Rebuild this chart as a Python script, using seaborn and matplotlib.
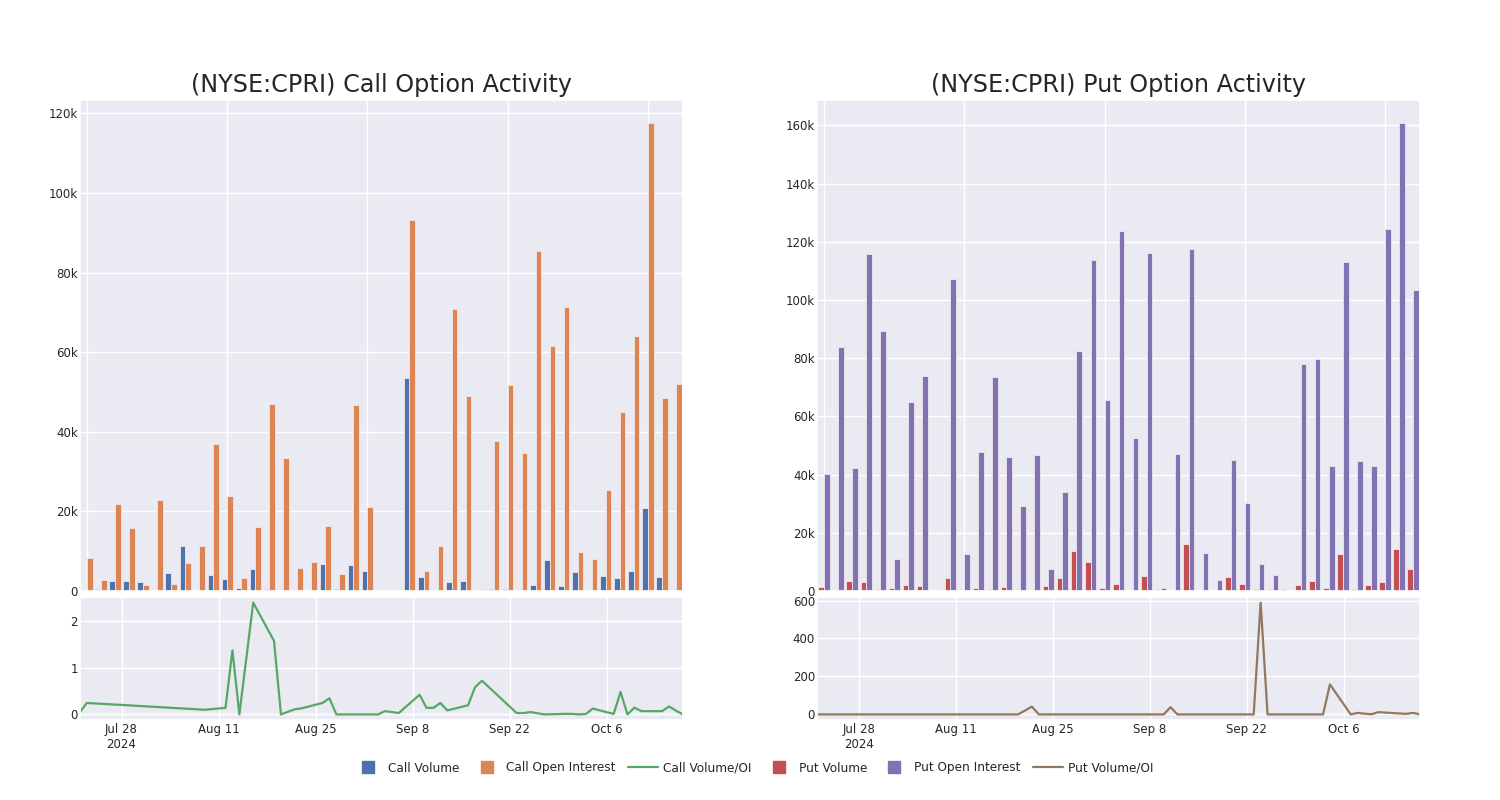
import pandas as pd
import numpy as np
import matplotlib
matplotlib.use('Agg')
import matplotlib.pyplot as plt
import seaborn as sns
from matplotlib.lines import Line2D
from matplotlib.ticker import FuncFormatter

# trading days shown in the chart
dates = ['2024-07-22', '2024-07-23', '2024-08-09', '2024-08-12', '2024-08-13',
         '2024-08-14', '2024-08-16', '2024-08-19', '2024-08-20', '2024-08-22',
         '2024-08-23', '2024-08-26', '2024-08-27', '2024-08-28', '2024-09-03',
         '2024-09-04', '2024-09-06', '2024-09-09', '2024-09-10', '2024-09-11',
         '2024-09-12', '2024-09-13', '2024-09-16', '2024-09-17', '2024-09-18',
         '2024-09-23', '2024-09-24', '2024-09-25', '2024-09-27', '2024-09-30',
         '2024-10-01', '2024-10-02', '2024-10-03', '2024-10-04', '2024-10-07',
         '2024-10-08', '2024-10-09', '2024-10-10', '2024-10-11', '2024-10-14',
         '2024-10-15', '2024-10-16', '2024-10-17']

call_volume = [300, 550, 2400, 2400, 2300, 100, 4600, 11200, 100, 3900,
               3000, 700, 5500, 400, 0, 300, 100, 6700, 500, 6600,
               5000, 25, 60, 53400, 3600, 300, 2300, 2500, 0, 500,
               600, 0, 1400, 7800, 1300, 4800, 0, 3750, 3200, 5000,
               20800, 3600, 100]
call_oi = [8400, 2800, 21800, 15900, 1600, 22900, 1800, 7100, 11200, 36900,
           23900, 3200, 16000, 46900, 33500, 5700, 7400, 16300, 4300, 46800,
           21200, 300, 300, 93100, 5000, 11300, 70800, 49000, 550, 37800,
           51800, 34600, 85500, 61500, 71300, 9800, 8000, 25400, 45100, 64000,
           117500, 48400, 52100]
call_ratio = [0.05, 0.245, 0.10, 0.14, 1.37, 0.0, 2.39, 1.57, 0.0, 0.11,
              0.13, 0.245, 0.345, 0.0, 0.0, 0.07, 0.03, 0.42, 0.14, 0.14,
              0.245, 0.085, 0.195, 0.58, 0.72, 0.03, 0.03, 0.05, 0.0, 0.012,
              0.012, 0.0, 0.01, 0.125, 0.01, 0.48, 0.0, 0.145, 0.07, 0.07,
              0.17, 0.08, 0.0]

put_volume = [1400, 200, 3300, 3000, 600, 900, 2200, 1700, 0, 4600,
              200, 1000, 800, 1400, 50, 100, 1800, 4600, 13900, 10100,
              900, 2300, 500, 5200, 800, 350, 16300, 50, 50, 4700,
              2300, 600, 800, 800, 2100, 3400, 1100, 12800, 700, 2000,
              3200, 14500, 7500]
put_oi = [40100, 84000, 42300, 115700, 89500, 11000, 64800, 74000, 0, 107100,
          12800, 47600, 73700, 46000, 29100, 46900, 7600, 34000, 82600, 113700,
          65600, 123600, 52500, 116300, 1000, 47200, 117700, 13100, 3900, 44900,
          30100, 9300, 5600, 0, 77900, 79800, 43000, 113200, 44600, 42900,
          124300, 160700, 103400]
put_ratio = [0, 0, 0, 0, 0, 0, 0, 0, 0, 41,
             0, 0, 0, 0, 0, 0, 0, 0, 0, 38,
             0, 0, 0, 0, 0, 0, 589, 0, 0, 0,
             0, 0, 0, 158, 0, 8, 4, 1, 12, 5,
             3, 8, 0]

sns.set_theme(style='darkgrid')
pal = sns.color_palette('deep')

fig = plt.figure(figsize=(15, 8), dpi=100)

def kfmt(v, pos):
    return '0' if v == 0 else f'{v/1000:.0f}k'

date_ticks = pd.date_range('2024-07-28', periods=6, freq='14D')
tick_labels = [d.strftime('%b %-d') for d in date_ticks]
tick_labels[0] = tick_labels[0] + '\n2024'

panels = [
    (0.0533, '(NYSE:CPRI) Call Option Activity', call_volume, call_oi, call_ratio,
     ['Call Volume', 'Call Open Interest'], [pal[0], pal[1]], pal[2], [0, 1, 2]),
    (0.5447, '(NYSE:CPRI) Put Option Activity', put_volume, put_oi, put_ratio,
     ['Put Volume', 'Put Open Interest'], [pal[3], pal[4]], pal[5], [0, 200, 400, 600]),
]

for left, title, vol, oi, ratio, names, cols, lcol, yt in panels:
    ax = fig.add_axes([left, 0.26125, 0.402, 0.61375])
    bars = pd.DataFrame({
        'date': dates * 2,
        'kind': [names[0]] * len(dates) + [names[1]] * len(dates),
        'value': vol + oi,
    })
    sns.barplot(data=bars, x='date', y='value', hue='kind', order=dates,
                hue_order=names, palette=cols, saturation=1, ax=ax,
                legend=False, linewidth=0.6, edgecolor='#f0e6ea')
    ax.set_xlim(-0.5, len(dates) - 0.5)
    ax.set_xticks(range(0, len(dates), 10))
    ax.set_xticklabels([])
    ax.grid(True, axis='both')
    ax.set_xlabel('')
    ax.set_ylabel('')
    ax.yaxis.set_major_formatter(FuncFormatter(kfmt))
    ax.tick_params(labelsize=8.5, length=0, pad=1.5)
    ax.set_title(title, fontsize=17.2)

    ax2 = fig.add_axes([left, 0.1, 0.402, 0.15375])
    line = pd.DataFrame({'date': pd.to_datetime(dates), 'ratio': ratio})
    sns.lineplot(data=line, x='date', y='ratio', color=lcol, linewidth=1.6, ax=ax2)
    ax2.set_xlim(pd.Timestamp(dates[0]), pd.Timestamp(dates[-1]))
    ax2.set_xticks(date_ticks)
    ax2.set_xticklabels(tick_labels)
    ax2.set_yticks(yt)
    ax2.set_xlabel('')
    ax2.set_ylabel('')
    ax2.tick_params(labelsize=8.5, length=0)
    ax2.tick_params(axis='y', pad=1.5)
    ax2.tick_params(axis='x', pad=2.5)

handles = [Line2D([], [], marker='s', ls='', color=pal[0], markersize=9),
           Line2D([], [], marker='s', ls='', color=pal[1], markersize=9),
           Line2D([], [], color=pal[2], lw=1.6),
           Line2D([], [], marker='s', ls='', color=pal[3], markersize=9),
           Line2D([], [], marker='s', ls='', color=pal[4], markersize=9),
           Line2D([], [], color=pal[5], lw=1.6)]
labels = ['Call Volume', 'Call Open Interest', 'Call Volume/OI',
          'Put Volume', 'Put Open Interest', 'Put Volume/OI']
fig.legend(handles, labels, ncol=6, frameon=False, fontsize=8.7, handlelength=2.5,
           handletextpad=0.4, columnspacing=1.0, borderaxespad=0, borderpad=0,
           loc='center', bbox_to_anchor=(0.502, 0.04))

fig.savefig('out.png', dpi=100)
